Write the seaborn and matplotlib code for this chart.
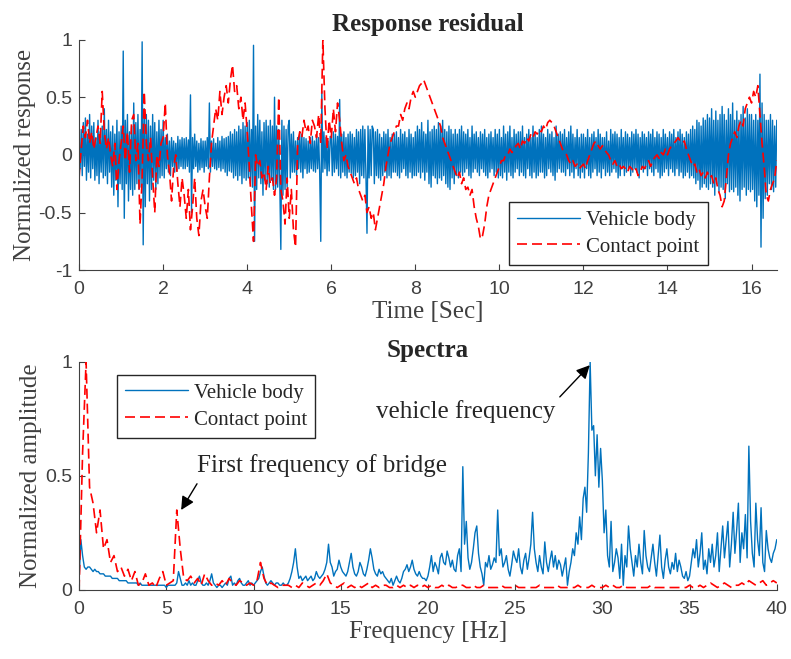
import numpy as np
import matplotlib
matplotlib.use("Agg")
import matplotlib.pyplot as plt
import seaborn as sns

# --- response residual (time domain), vehicle body sampled every 0.025 s
vehicle_resp = [
    .10, -.12, .22, -.18, .28, -.10, .32, -.22, .18, -.15, .35, -.20, .25, -.12, .28, -.22, .15, -.18, .30, -.25,
    .20, -.15, .25, -.20, .40, -.18, .22, -.25, .30, -.15, .20, -.28, .25, -.35, .18, -.22, .30, -.45, .20, -.25,
    .25, -.30, .90, -.55, .30, -.25, .35, -.40, .20, -.30, .25, -.35, .45, -.30, .28, -.25, .35, -.30, .22, -.28,
    .98, -.78, .40, -.45, .35, -.25, .30, -.40, .25, -.30, .35, -.22, .28, -.30, .20, -.25, .30, -.20, .22, -.18,
    .30, -.20, .15, -.12, .18, -.15, .12, -.18, .15, -.10, .12, -.15, .10, -.14, .16, -.12, .13, -.10, .15, -.12,
    .14, -.12, .15, -.10, .13, -.15, .52, -.50, .15, -.12, .18, -.10, .12, -.15, .10, -.13, .14, -.11, .12, -.15,
    .12, -.10, .15, -.12, .45, -.15, .12, -.10, .14, -.12, .10, -.13, .15, -.11, .12, -.14, .16, -.12, .14, -.15,
    .15, -.18, .16, -.14, .20, -.15, .18, -.20, .22, -.18, .20, -.22, .25, -.18, .22, -.25, .28, -.20, .25, -.22,
    .28, -.20, .30, -.25, .22, -.28, .95, -.75, .25, -.30, .35, -.20, .30, -.25, .20, -.35, .28, -.22, .30, -.25,
    .25, -.28, .30, -.22, .25, -.30, .50, -.30, .25, -.28, .22, -.25, -.82, .30, -.35, .25, -.30, .22, -.28, .25,
    .30, -.20, .18, -.15, .20, -.15, .12, -.18, .15, -.12, .20, -.15, .18, -.20, .15, -.12, .14, -.16, .12, -.15,
    .15, -.12, .16, -.14, .12, -.15, .18, -.12, .15, -.16, -.75, .55, -.15, .20, -.12, .15, -.18, .12, -.14, .16,
    .15, -.18, .20, -.15, .18, -.12, .16, -.18, .48, -.20, .18, -.15, .20, -.18, .15, -.20, .18, -.15, .20, -.16,
    .18, -.20, .15, -.18, .22, -.15, .20, -.25, .22, -.18, .25, -.20, .22, -.18, -.68, .25, -.20, .22, -.18, .25,
    .22, -.25, .20, -.18, .22, -.20, .18, -.22, .15, -.18, .20, -.15, .18, -.20, .22, -.18, .15, -.20, .18, -.15,
    .18, -.15, .20, -.18, .15, -.20, .22, -.15, .18, -.12, .20, -.18, .15, -.20, .22, -.15, .18, -.20, .15, -.18,
    .20, -.18, .25, -.15, .22, -.20, .28, -.15, .20, -.22, .18, -.15, .30, -.25, .20, -.28, .22, -.18, .25, -.20,
    .22, -.25, .28, -.20, .25, -.22, .30, -.18, .22, -.25, .20, -.28, .25, -.30, .22, -.20, .18, -.25, .22, -.18,
    .18, -.20, .22, -.15, .25, -.18, .20, -.15, .18, -.12, .22, -.18, .15, -.20, .25, -.15, .18, -.12, .20, -.15,
    .15, -.18, .20, -.12, .18, -.15, .22, -.18, .15, -.20, .18, -.15, .20, -.12, .15, -.18, .22, -.15, .18, -.20,
    .22, -.18, .15, -.20, .25, -.15, .18, -.22, .20, -.15, .25, -.18, .15, -.20, .22, -.15, .18, -.12, .20, -.18,
    .20, -.15, .25, -.18, .15, -.20, .18, -.12, .22, -.18, .15, -.20, .25, -.15, .18, -.20, .15, -.18, .22, -.15,
    .25, -.15, .18, -.20, .15, -.18, .22, -.12, .18, -.15, .20, -.18, .15, -.22, .25, -.15, .18, -.12, .20, -.15,
    .18, -.15, .22, -.18, .15, -.12, .20, -.18, .25, -.15, .18, -.20, .15, -.12, .22, -.18, .15, -.20, .18, -.15,
    .18, -.20, .15, -.12, .22, -.18, .15, -.20, .18, -.15, .20, -.12, .15, -.18, .22, -.15, .18, -.20, .15, -.12,
    .15, -.18, .20, -.15, .12, -.18, .22, -.15, .18, -.12, .20, -.15, .18, -.20, .15, -.18, .22, -.12, .15, -.18,
    .20, -.15, .18, -.12, .15, -.18, .20, -.15, .18, -.12, .22, -.15, .18, -.20, .15, -.12, .20, -.15, .18, -.12,
    .15, -.18, .20, -.12, .18, -.15, .22, -.18, .15, -.12, .20, -.15, .18, -.20, .15, -.18, .22, -.15, .18, -.12,
    .15, -.18, .20, -.12, .18, -.15, .22, -.18, .15, -.12, .20, -.18, .22, -.15, .18, -.20, .15, -.18, .20, -.15,
    .18, -.20, .22, -.18, .25, -.20, .22, -.25, .30, -.22, .28, -.30, .25, -.28, .32, -.25, .30, -.28, .35, -.30,
    .32, -.25, .40, -.28, .30, -.35, .38, -.25, .30, -.32, .35, -.28, .42, -.30, .35, -.38, .30, -.25, .40, -.32,
    .35, -.30, .45, -.32, .30, -.28, .38, -.35, .30, -.40, .35, -.30, .42, -.28, .32, -.35, .40, -.30, .35, -.32,
    .35, -.30, .30, -.40, .35, -.45, .30, -.35, .70, -.80, .45, -.55, .35, -.38, .30, -.35, .30, -.25, .35, -.30,
    .30, -.32, .25, -.28, .30,
]

# contact point residual, sampled every 0.05 s
contact_resp = [
    -.20, .05, .25, .15, .30, .10, .20, .05, .15, .25, .10, .55, .20, .05, .15, .00, -.10, .10, -.30, -.05,
    .10, .25, -.05, .20, -.15, .30, .35, -.05, .10, -.60, -.20, .55, .10, -.05, .15, -.20, -.50, .00, -.10, .10,
    .15, .45, .00, -.15, -.40, -.10, .00, -.25, -.45, -.20, -.35, -.55, -.30, -.65, -.45, -.20, -.55, -.70, -.40, -.30,
    -.45, -.55, -.20, .10, .25, .40, .30, .55, .35, .50, .60, .45, .65, .78, .55, .60, .40, .50, .30, .45,
    .20, -.10, -.45, -.75, .00, -.10, -.05, -.20, -.15, -.30, -.10, -.25, -.20, -.35, -.20, .50, -.30, -.40, -.60, -.20,
    -.55, -.30, -.65, -.80, .10, .20, .15, .30, .20, .25, .10, .30, .25, .15, .35, .10, 1.0, .40, .05, .30,
    .15, .40, .20, .45, .30, .10, -.05, .00, -.10, -.15, -.20, -.25, -.20, -.30, -.35, -.40, -.35, -.50, -.45, -.55,
    -.50, -.65, -.55, -.45, -.35, -.25, -.10, .00, .10, .15, .20, .25, .25, .35, .30, .40, .45, .40, .50, .55,
    .50, .55, .60, .62, .65, .60, .55, .50, .45, .40, .35, .30, .25, .15, .10, .05, .00, -.05, -.10, -.15,
    -.20, -.15, -.25, -.20, -.30, -.28, -.35, -.30, -.45, -.55, -.62, -.73, -.70, -.60, -.45, -.35, -.30, -.25, -.20, -.15,
    -.10, -.05, -.05, .00, .00, .05, .02, .05, .08, .10, .05, .12, .10, .15, .12, .18, .15, .20, .18, .22,
    .20, .25, .22, .28, .30, .28, .25, .20, .15, .10, .05, .02, .00, -.05, -.08, -.05, -.10, -.08, -.12, -.10,
    -.08, -.12, -.05, .00, .05, .10, .12, .08, .05, .08, .05, .02, .00, -.05, -.08, -.05, -.10, -.08, -.12, -.10,
    -.12, -.15, -.10, -.12, -.15, -.12, -.18, -.15, -.10, -.12, -.08, -.05, -.10, -.05, -.02, .00, -.03, .02, .00, .05,
    .00, .05, .08, .10, .12, .15, .12, .10, .12, .05, .00, -.05, -.10, -.08, -.15, -.12, -.18, -.15, -.20, -.15,
    -.20, -.18, -.25, -.20, -.30, -.35, -.45, -.40, -.20, .00, .10, .15, .20, .15, .25, .30, .25, .40, .45, .50,
    .45, .55, .50, .60, .35, .10, -.10, -.35, -.40, -.30, -.25, -.20, -.05,
]

# --- spectra, vehicle body every 0.1 Hz
vehicle_spec = [
    .05, .22, .15, .10, .09, .10, .10, .09, .08, .09, .08, .08, .07, .07, .07, .06, .06, .06, .06, .05,
    .05, .05, .05, .04, .04, .04, .04, .04, .03, .03, .03, .03, .03, .03, .02, .03, .02, .02, .02, .02,
    .02, .02, .02, .02, .02, .02, .02, .02, .02, .02, .01, .02, .02, .02, .02, .02, .03, .08, .05, .02,
    .02, .03, .02, .04, .02, .03, .02, .02, .04, .06, .03, .02, .02, .03, .02, .04, .07, .03, .02, .01,
    .02, .02, .01, .02, .03, .02, .05, .06, .02, .03, .02, .04, .05, .03, .02, .02, .03, .04, .02, .03,
    .02, .03, .04, .05, .08, .10, .06, .03, .02, .03, .04, .03, .02, .03, .03, .02, .02, .03, .02, .02,
    .03, .05, .08, .12, .18, .10, .05, .06, .04, .05, .06, .04, .05, .06, .04, .05, .08, .06, .05, .06,
    .07, .09, .12, .20, .12, .10, .06, .08, .09, .13, .10, .08, .07, .06, .08, .12, .16, .10, .07, .06,
    .08, .12, .10, .07, .06, .09, .13, .18, .14, .09, .07, .06, .09, .07, .08, .06, .05, .04, .03, .05,
    .02, .04, .06, .04, .03, .05, .08, .09, .11, .08, .10, .13, .09, .07, .06, .08, .06, .05, .05, .04,
    .06, .10, .15, .08, .12, .10, .07, .14, .16, .12, .11, .17, .14, .10, .13, .09, .08, .15, .18, .08,
    .54, .20, .30, .14, .09, .12, .18, .25, .28, .16, .10, .07, .02, .12, .10, .15, .09, .11, .14, .12,
    .35, .15, .18, .10, .12, .15, .09, .06, .11, .17, .14, .12, .18, .10, .07, .13, .16, .09, .14, .20,
    .34, .18, .12, .08, .15, .10, .07, .21, .12, .08, .13, .17, .10, .15, .09, .13, .11, .06, .10, .14,
    .02, .08, .12, .18, .15, .25, .20, .32, .22, .40, .45, .34, .60, 1.0, .70, .72, .50, .68, .45, .62,
    .48, .25, .35, .15, .10, .30, .08, .12, .18, .14, .05, .20, .02, .15, .10, .28, .18, .12, .06, .15,
    .10, .20, .12, .07, .26, .15, .10, .08, .14, .20, .12, .06, .15, .24, .10, .05, .13, .18, .10, .07,
    .12, .09, .16, .08, .13, .10, .06, .05, .08, .04, .06, .12, .18, .14, .22, .10, .16, .25, .09, .13,
    .07, .18, .12, .20, .10, .15, .25, .08, .18, .28, .14, .22, .30, .10, .20, .34, .16, .26, .38, .12,
    .25, .18, .33, .14, .63, .30, .16, .10, .38, .22, .15, .36, .12, .08, .26, .18, .14, .12, .16, .18,
    .22,
]

# contact point spectrum every 0.2 Hz
contact_spec = [
    .00, .60, 1.0, .45, .38, .25, .35, .18, .22, .12,
    .15, .08, .10, .06, .09, .04, .08, .02, .03, .07,
    .02, .03, .01, .05, .08, .02, .03, .04, .35, .18,
    .05, .04, .06, .03, .05, .02, .07, .04, .02, .03,
    .02, .04, .02, .05, .03, .02, .04, .03, .02, .03,
    .02, .04, .12, .05, .02, .03, .02, .01, .02, .02,
    .02, .01, .02, .01, .03, .02, .01, .02, .03, .02,
    .04, .07, .03, .02, .01, .02, .03, .01, .02, .01,
    .02, .01, .02, .03, .01, .02, .01, .02, .02, .01,
    .01, .02, .01, .02, .01, .02, .01, .02, .01, .02,
    .01, .02, .01, .01, .02, .01, .02, .01, .01, .02,
    .02, .01, .01, .02, .01, .01, .02, .01, .01, .01,
    .01, .02, .01, .01, .01, .02, .01, .01, .01, .01,
    .01, .01, .02, .01, .01, .01, .01, .02, .01, .01,
    .01, .01, .01, .02, .01, .01, .01, .02, .01, .01,
    .01, .02, .01, .02, .01, .01, .02, .01, .01, .01,
    .01, .01, .01, .01, .02, .01, .01, .01, .01, .01,
    .01, .01, .01, .01, .01, .02, .01, .01, .02, .01,
    .02, .03, .02, .01, .02, .03, .02, .01, .02, .02,
    .03, .02, .04, .03, .02, .03, .04, .02, .03, .04,
    .03,
]

T_END = 16.6
F_END = 40

sns.set_style("ticks")
plt.rcParams['font.family'] = ['Liberation Serif', 'DejaVu Serif']
plt.rcParams['xtick.direction'] = 'in'
plt.rcParams['ytick.direction'] = 'in'

BLUE = '#0072BD'
RED = '#FF0000'
GRAY = '#404040'
TXT = '#262626'

t_vehicle = np.linspace(0, T_END, len(vehicle_resp))
t_contact = np.linspace(0, T_END, len(contact_resp))
f_vehicle = np.linspace(0, F_END, len(vehicle_spec))
f_contact = np.linspace(0, F_END, len(contact_spec))

fig = plt.figure(figsize=(7.91, 6.59), dpi=100)
ax1 = fig.add_axes([0.100, 0.590, 0.882, 0.350])
ax2 = fig.add_axes([0.100, 0.105, 0.882, 0.346])

legend_kw = dict(fontsize=15, fancybox=False, edgecolor=TXT, framealpha=1,
                 handlelength=3.0, borderpad=0.4, labelspacing=0.35,
                 borderaxespad=0, handletextpad=0.3)

# top: response residual
sns.lineplot(x=t_vehicle, y=vehicle_resp, ax=ax1, color=BLUE, lw=1.0,
             label='Vehicle body', sort=False)
sns.lineplot(x=t_contact, y=contact_resp, ax=ax1, color=RED, lw=1.2,
             label='Contact point', sort=False, linestyle=(0, (6, 3)))
ax1.set_xlim(0, T_END)
ax1.set_ylim(-1, 1)
ax1.set_xticks(np.arange(0, 17, 2))
ax1.set_yticks([-1, -0.5, 0, 0.5, 1])
ax1.set_yticklabels(['-1', '-0.5', '0', '0.5', '1'])
ax1.set_title('Response residual', fontsize=18, fontweight='bold', pad=6)
ax1.set_xlabel('Time [Sec]', fontsize=18, color=GRAY, labelpad=2)
ax1.set_ylabel('Normalized response', fontsize=18, color=GRAY, labelpad=2)
ax1.legend(loc='lower right', bbox_to_anchor=(0.901, 0.022), **legend_kw)

# bottom: spectra
sns.lineplot(x=f_vehicle, y=vehicle_spec, ax=ax2, color=BLUE, lw=1.0,
             label='Vehicle body', sort=False)
sns.lineplot(x=f_contact, y=contact_spec, ax=ax2, color=RED, lw=1.2,
             label='Contact point', sort=False, linestyle=(0, (6, 3)))
ax2.set_xlim(0, F_END)
ax2.set_ylim(0, 1)
ax2.set_xticks(np.arange(0, 41, 5))
ax2.set_yticks([0, 0.5, 1])
ax2.set_yticklabels(['0', '0.5', '1'])
ax2.set_title('Spectra', fontsize=18, fontweight='bold', pad=2)
ax2.set_xlabel('Frequency [Hz]', fontsize=18, color=GRAY, labelpad=2)
ax2.set_ylabel('Normalized amplitude', fontsize=18, color=GRAY, labelpad=2)
ax2.legend(loc='upper left', bbox_to_anchor=(0.054, 0.943), **legend_kw)

arrow_kw = dict(arrowstyle='-|>', color='k', lw=1, mutation_scale=20,
                shrinkA=0, shrinkB=0)
ax2.annotate('', xy=(5.85, 0.35), xytext=(6.76, 0.465), arrowprops=arrow_kw)
ax2.text(6.76, 0.544, 'First frequency of bridge', fontsize=18, color=TXT,
         va='center', ha='left')
ax2.annotate('', xy=(29.28, 0.985), xytext=(27.56, 0.846), arrowprops=arrow_kw)
ax2.text(17.0, 0.78, 'vehicle frequency', fontsize=18, color=TXT,
         va='center', ha='left')

for ax in (ax1, ax2):
    sns.despine(ax=ax)
    ax.tick_params(labelsize=14, labelcolor=GRAY, color=GRAY, length=4)
    ax.tick_params(axis='x', pad=8)
    ax.tick_params(axis='y', pad=5)
    for lab in ax.get_xticklabels() + ax.get_yticklabels():
        lab.set_family(['Liberation Sans', 'DejaVu Sans'])
    for s in ax.spines.values():
        s.set_color(GRAY)
    for txt in ax.get_legend().get_texts():
        txt.set_color(TXT)

fig.savefig('out.png', dpi=100)
